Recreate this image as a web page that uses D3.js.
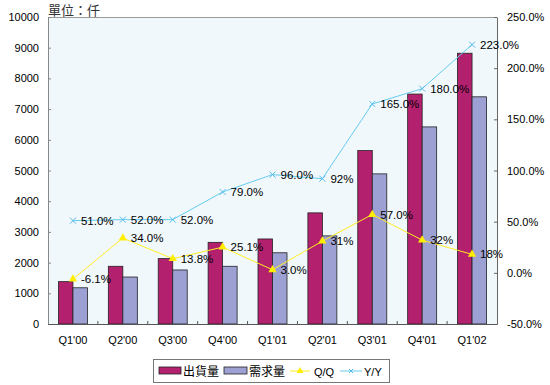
<!DOCTYPE html>
<html>
<head>
<meta charset="utf-8">
<script src="https://cdn.jsdelivr.net/npm/d3@7"></script>
<style>
body{margin:0;background:#fff;}
text{font-family:"Liberation Sans",Arial,sans-serif;}
</style>
</head>
<body>
<div id="chart"></div>
<script>
var quarters = ["Q1'00","Q2'00","Q3'00","Q4'00","Q1'01","Q2'01","Q3'01","Q4'01","Q1'02"];
var shipments = [1380,1880,2130,2660,2770,3620,5650,7490,8820];
var demand = [1180,1530,1760,1880,2320,2870,4890,6420,7400];
var qoq = [-6.1,34.0,13.8,25.1,3.0,31,57.0,32,18];
var qoqLabels = ["-6.1%","34.0%","13.8%","25.1%","3.0%","31%","57.0%","32%","18%"];
var yoy = [51,52,52,79,96,92,165,180,223];
var yoyLabels = ["51.0%","52.0%","52.0%","79.0%","96.0%","92%","165.0%","180.0%","223.0%"];
var leftTicks = [0,1000,2000,3000,4000,5000,6000,7000,8000,9000,10000];
var rightTicks = [-50,0,50,100,150,200,250];

var W = 550, H = 385;
var m = {left:48, right:497, top:17, bottom:324};

var svg = d3.select("#chart").append("svg").attr("width",W).attr("height",H);

var x = d3.scaleBand().domain(quarters).range([m.left,m.right]);
var xb = d3.scaleBand().domain(["s","d"]).range([0,29]);
var y = d3.scaleLinear().domain([0,10000]).range([m.bottom,m.top]);
var y2 = d3.scaleLinear().domain([-50,250]).range([m.bottom,m.top]);

// plot background
svg.append("rect").attr("x",m.left).attr("y",m.top).attr("width",m.right-m.left).attr("height",m.bottom-m.top)
  .attr("fill","#F1F8FC");
svg.append("line").attr("x1",m.left).attr("x2",m.right).attr("y1",m.top+0.5).attr("y2",m.top+0.5).attr("stroke","#999");

// bars
var off = (x.bandwidth()-29)/2;
svg.selectAll(".bs").data(shipments).enter().append("rect")
  .attr("x",function(d,i){return x(quarters[i])+off+xb("s");})
  .attr("y",function(d){return y(d);})
  .attr("width",xb.bandwidth()).attr("height",function(d){return y(0)-y(d);})
  .attr("fill","#B3206E").attr("stroke","#222").attr("stroke-width",0.8);
svg.selectAll(".bd").data(demand).enter().append("rect")
  .attr("x",function(d,i){return x(quarters[i])+off+xb("d");})
  .attr("y",function(d){return y(d);})
  .attr("width",xb.bandwidth()).attr("height",function(d){return y(0)-y(d);})
  .attr("fill","#9DA0D2").attr("stroke","#222").attr("stroke-width",0.8);

// axes
var gl = svg.append("g").attr("transform","translate("+m.left+",0)")
  .call(d3.axisLeft(y).tickValues(leftTicks).tickSizeInner(-3).tickSizeOuter(0).tickPadding(9).tickFormat(d3.format("d")));
gl.select(".domain").attr("stroke","#888");
gl.selectAll(".tick line").attr("stroke","#888");
gl.selectAll("text").attr("font-size",11).attr("fill","#000");

var gr = svg.append("g").attr("transform","translate("+m.right+",0)")
  .call(d3.axisRight(y2).tickValues(rightTicks).tickSizeInner(-3).tickSizeOuter(0).tickPadding(10)
    .tickFormat(function(d){return d.toFixed(1)+"%";}));
gr.select(".domain").attr("stroke","#666");
gr.selectAll(".tick line").attr("stroke","#666");
gr.selectAll("text").attr("font-size",11).attr("fill","#000");

var gb = svg.append("g").attr("transform","translate(0,"+m.bottom+")")
  .call(d3.axisBottom(x).tickSize(0).tickPadding(12));
gb.select(".domain").attr("stroke","#555");
gb.selectAll("text").attr("font-size",11).attr("fill","#000");
svg.selectAll(".sep").data(quarters.slice(1)).enter().append("line")
  .attr("x1",function(d){return x(d);}).attr("x2",function(d){return x(d);})
  .attr("y1",m.bottom).attr("y2",m.bottom-3).attr("stroke","#555");

// lines
var cx = function(i){return x(quarters[i])+x.bandwidth()/2;};
var lineQ = d3.line().x(function(d,i){return cx(i);}).y(function(d){return y2(d);});
svg.append("path").attr("d",lineQ(qoq)).attr("fill","none").attr("stroke","#FFEE22").attr("stroke-width",1);
svg.append("path").attr("d",lineQ(yoy)).attr("fill","none").attr("stroke","#66CCEE").attr("stroke-width",1);

var tri = d3.symbol().type(d3.symbolTriangle).size(30);
svg.selectAll(".mq").data(qoq).enter().append("path")
  .attr("d",tri).attr("transform",function(d,i){return "translate("+cx(i)+","+y2(d)+")";})
  .attr("fill","#FFEE00");
svg.selectAll(".my").data(yoy).enter().append("path")
  .attr("d","M-3,-3L3,3M-3,3L3,-3").attr("transform",function(d,i){return "translate("+cx(i)+","+y2(d)+")";})
  .attr("stroke","#55BBEE").attr("fill","none");

svg.selectAll(".lq").data(qoq).enter().append("text")
  .attr("x",function(d,i){return cx(i)+8;}).attr("y",function(d){return y2(d);}).attr("dy","0.35em")
  .attr("font-size",11.5).text(function(d,i){return qoqLabels[i];});
svg.selectAll(".ly").data(yoy).enter().append("text")
  .attr("x",function(d,i){return cx(i)+8;}).attr("y",function(d){return y2(d);}).attr("dy","0.35em")
  .attr("font-size",11.5).text(function(d,i){return yoyLabels[i];});

// unit title
svg.append("text").attr("x",48).attr("y",15).attr("font-size",13)
  .style("font-family","'Noto Sans CJK TC',sans-serif").attr("fill","#333").text("單位：仟");

// legend
var lg = svg.append("g");
lg.append("rect").attr("x",153.5).attr("y",359.5).attr("width",236).attr("height",23)
  .attr("fill","#fff").attr("stroke","#777");
lg.append("rect").attr("x",159).attr("y",367).attr("width",22).attr("height",7).attr("fill","#B3206E").attr("stroke","#222").attr("stroke-width",0.8);
lg.append("text").attr("x",183).attr("y",375.5).attr("font-size",12).style("font-family","'Noto Sans CJK TC',sans-serif").text("出貨量");
lg.append("rect").attr("x",224).attr("y",367).attr("width",23).attr("height",7).attr("fill","#9DA0D2").attr("stroke","#222").attr("stroke-width",0.8);
lg.append("text").attr("x",249).attr("y",375.5).attr("font-size",12).style("font-family","'Noto Sans CJK TC',sans-serif").text("需求量");
lg.append("line").attr("x1",290).attr("x2",310).attr("y1",371).attr("y2",371).attr("stroke","#FFEE22");
lg.append("path").attr("d",d3.symbol().type(d3.symbolTriangle).size(20)).attr("transform","translate(300,371)").attr("fill","#FFEE00");
lg.append("text").attr("x",314).attr("y",375.5).attr("font-size",11).text("Q/Q");
lg.append("line").attr("x1",340).attr("x2",362).attr("y1",371).attr("y2",371).attr("stroke","#66CCEE");
lg.append("path").attr("d","M-2,-2L2,2M-2,2L2,-2").attr("transform","translate(351,371)").attr("stroke","#55BBEE");
lg.append("text").attr("x",364).attr("y",375.5).attr("font-size",11).text("Y/Y");
</script>
</body>
</html>
